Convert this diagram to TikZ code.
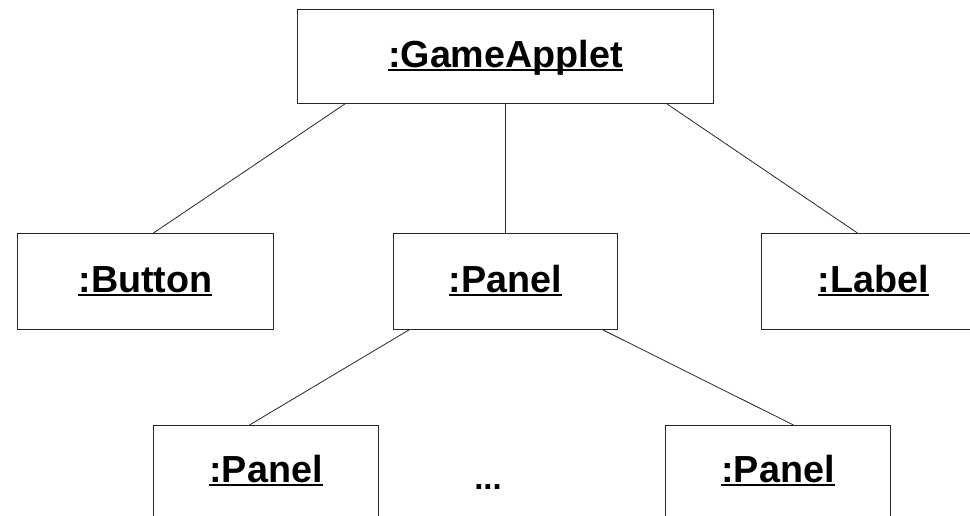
\documentclass[tikz,border=0pt]{standalone}
\usepackage{fontspec}
\setmainfont{Liberation Sans}
\usetikzlibrary{positioning}

% underlined object name
\newcommand{\objname}[1]{\setbox0\hbox{\bfseries #1}\rlap{\rule[-3.2pt]{\wd0}{1.5pt}}\box0}

\begin{document}
\begin{tikzpicture}[
  x=1pt, y=-1pt,
  font=\fontsize{37.7}{40}\selectfont,
  obj/.style={
    rectangle, draw=black!85, line width=0.9pt, minimum height=96pt,
    text height=27pt, text depth=4.5pt, inner sep=0pt, anchor=north west
  },
  link/.style={draw=black!85, line width=0.8pt},
]
\useasboundingbox (0,0) rectangle (970,516);

\node[obj, minimum width=416pt, minimum height=94pt] (applet) at (297,9) {\objname{:GameApplet}};
\node[obj, minimum width=256pt] (button) at (17,233) {\objname{:Button}};
\node[obj, minimum width=224pt] (panel) at (393,233) {\objname{:Panel}};
\node[obj, minimum width=224pt] (label) at (761,233) {\objname{:Label}};
\node[obj, minimum width=225pt, minimum height=92pt] (subpanelA) at (153,425) {\objname{:Panel}};
\node[obj, minimum width=225pt, minimum height=92pt] (subpanelB) at (665,425) {\objname{:Panel}};
\node[font=\fontsize{33}{34}\selectfont\bfseries, anchor=base] (dots) at (488,489) {...};

\draw[link] ([xshift=48pt]applet.south west) -- ([xshift=8pt]button.north);
\draw[link] (applet.south) -- (applet.south |- panel.north);
\draw[link] ([xshift=-47pt]applet.south east) -- ([xshift=-16pt]label.north);
\draw[link] ([xshift=16pt]panel.south west) -- ([xshift=-16.5pt]subpanelA.north);
\draw[link] ([xshift=-15pt]panel.south east) -- ([xshift=15.5pt]subpanelB.north);

\end{tikzpicture}
\end{document}
